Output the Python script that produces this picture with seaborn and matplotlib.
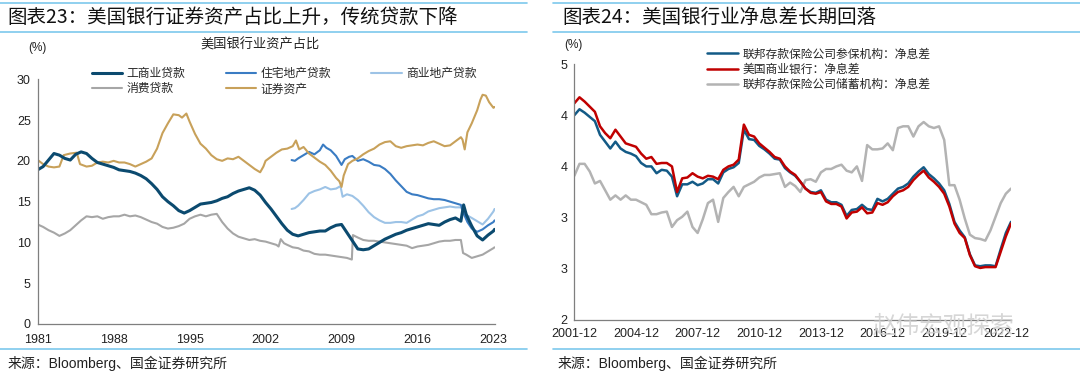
import numpy as np
import pandas as pd
import matplotlib
matplotlib.use("Agg")
import matplotlib.pyplot as plt
import seaborn as sns
from matplotlib.lines import Line2D

# ---------------- data: left chart (share of US bank assets, %) ----------------
ci_years = [1981.0,1981.5,1982.0,1982.5,1983.0,1983.5,1984.0,1984.5,1985.0,1985.5,1986.0,1986.5,1987.0,1987.5,
            1988.0,1988.5,1989.0,1989.5,1990.0,1990.5,1991.0,1991.5,1992.0,1992.5,1993.0,1993.5,1994.0,1994.5,
            1995.0,1995.5,1996.0,1996.5,1997.0,1997.5,1998.0,1998.5,1999.0,1999.5,2000.0,2000.5,2001.0,2001.5,
            2002.0,2002.5,2003.0,2003.5,2004.0,2004.5,2005.0,2005.5,2006.0,2006.5,2007.0,2007.5,2008.0,2008.5,
            2009.0,2009.5,2010.0,2010.5,2011.0,2011.5,2012.0,2012.5,2013.0,2013.5,2014.0,2014.5,2015.0,2015.5,
            2016.0,2016.5,2017.0,2017.5,2018.0,2018.5,2019.0,2019.5,2020.0,2020.25,2020.5,2021.0,2021.5,2022.0,
            2022.5,2023.0,2023.1]
ci_loans = [18.9,19.3,20.1,20.9,20.7,20.3,20.1,20.8,21.1,20.9,20.3,19.8,19.6,19.4,
            19.2,18.9,18.8,18.7,18.5,18.2,17.8,17.2,16.5,15.6,15.0,14.5,13.9,13.6,
            13.9,14.3,14.7,14.8,14.9,15.1,15.4,15.6,16.0,16.3,16.5,16.7,16.4,15.8,
            14.9,14.1,13.2,12.3,11.5,11.0,10.8,11.0,11.2,11.3,11.4,11.4,11.8,12.1,
            12.2,11.2,10.2,9.2,9.1,9.2,9.6,10.0,10.4,10.7,11.0,11.2,11.5,11.7,
            11.9,12.1,12.3,12.2,12.1,12.5,12.8,13.0,12.6,14.6,13.4,12.0,10.8,10.3,
            10.9,11.4,11.6]

res_years = [2004.4,2004.7,2005.0,2005.5,2006.0,2006.5,2007.0,2007.3,2007.6,2008.0,2008.5,2009.0,2009.3,2009.7,
             2010.0,2010.5,2011.0,2011.5,2012.0,2012.5,2013.0,2013.5,2014.0,2014.5,2015.0,2015.5,2016.0,2016.5,
             2017.0,2017.5,2018.0,2018.5,2019.0,2019.5,2020.0,2020.3,2020.6,2021.0,2021.5,2022.0,2022.5,2023.0,2023.1]
res_loans = [20.1,20.0,20.3,20.7,21.1,20.8,21.3,22.0,21.6,21.3,20.6,19.5,20.2,20.5,
             20.6,20.0,20.2,19.9,19.5,19.4,19.0,18.4,17.6,16.9,16.2,15.9,15.8,15.6,
             15.4,15.3,15.3,15.2,15.0,14.8,14.6,13.4,12.5,11.7,11.3,11.6,12.1,12.5,12.7]

cre_years = [2004.4,2004.7,2005.0,2005.5,2006.0,2006.5,2007.0,2007.5,2008.0,2008.5,2008.9,2009.1,2009.5,2010.0,
             2010.5,2011.0,2011.5,2012.0,2012.5,2013.0,2013.5,2014.0,2014.5,2015.0,2015.5,2016.0,2016.5,2017.0,
             2017.5,2018.0,2018.5,2019.0,2019.5,2020.0,2020.3,2020.6,2021.0,2021.5,2022.0,2022.5,2023.0,2023.1]
cre_loans = [14.1,14.2,14.5,15.2,16.0,16.3,16.5,16.8,16.5,16.6,16.9,15.6,15.9,15.7,
             15.2,14.5,13.7,13.1,12.7,12.4,12.4,12.5,12.5,12.4,12.8,13.2,13.4,13.8,
             14.0,14.2,14.3,14.4,14.3,14.3,13.6,13.3,13.0,12.6,12.2,12.9,13.8,14.1]

con_years = [1981.0,1981.5,1982.0,1982.5,1983.0,1983.5,1984.0,1984.5,1985.0,1985.5,1986.0,1986.5,1987.0,1987.5,
             1988.0,1988.5,1989.0,1989.5,1990.0,1990.5,1991.0,1991.5,1992.0,1992.5,1993.0,1993.5,1994.0,1994.5,
             1995.0,1995.5,1996.0,1996.5,1997.0,1997.5,1998.0,1998.5,1999.0,1999.5,2000.0,2000.5,2001.0,2001.5,
             2002.0,2002.5,2003.0,2003.2,2003.4,2003.7,2004.0,2004.5,2005.0,2005.5,2006.0,2006.5,2007.0,2007.5,
             2008.0,2008.5,2009.0,2009.5,2009.95,2010.05,2010.5,2011.0,2011.5,2012.0,2012.5,2013.0,2013.5,2014.0,
             2014.5,2015.0,2015.5,2016.0,2016.5,2017.0,2017.5,2018.0,2018.5,2019.0,2019.5,2020.0,2020.2,2020.5,
             2021.0,2021.5,2022.0,2022.5,2023.0,2023.1]
con_loans = [12.2,11.9,11.5,11.2,10.8,11.1,11.5,12.1,12.7,13.2,13.1,13.2,12.9,13.1,
             13.2,13.2,13.4,13.2,13.3,13.1,12.8,12.5,12.3,11.9,11.7,11.8,12.0,12.3,
             12.9,13.2,13.4,13.2,13.4,13.5,12.5,11.7,11.1,10.7,10.5,10.3,10.4,10.2,
             10.1,9.9,9.7,9.5,10.4,9.9,9.7,9.4,9.3,9.0,8.9,8.6,8.5,8.5,
             8.4,8.3,8.2,8.1,7.9,10.9,10.6,10.3,10.2,10.2,10.1,10.0,9.9,9.8,
             9.7,9.6,9.3,9.5,9.6,9.7,9.9,10.1,10.2,10.2,10.3,10.3,8.7,8.5,
             8.1,8.3,8.5,8.9,9.3,9.4]

sec_years = [1981.0,1981.5,1982.0,1982.5,1983.0,1983.4,1984.0,1984.6,1984.9,1985.5,1986.0,1986.5,1987.0,1987.5,
             1988.0,1988.5,1989.0,1989.5,1990.0,1990.5,1991.0,1991.5,1992.0,1992.5,1993.0,1993.5,1994.0,1994.3,
             1994.7,1995.0,1995.5,1996.0,1996.5,1997.0,1997.5,1998.0,1998.5,1999.0,1999.5,2000.0,2000.5,2001.0,
             2001.5,2001.8,2002.0,2002.5,2003.0,2003.5,2004.0,2004.5,2004.8,2005.1,2005.5,2006.0,2006.5,2007.0,
             2007.5,2008.0,2008.5,2008.8,2009.0,2009.2,2009.6,2010.0,2010.5,2011.0,2011.5,2012.0,2012.5,2013.0,
             2013.5,2014.0,2014.5,2015.0,2015.5,2016.0,2016.5,2017.0,2017.5,2018.0,2018.5,2019.0,2019.5,2020.0,
             2020.15,2020.35,2020.6,2021.0,2021.5,2021.8,2022.0,2022.3,2022.6,2023.0,2023.1]
securities = [20.1,19.6,19.3,19.2,19.3,20.7,20.9,21.0,19.6,19.3,19.4,19.8,19.9,19.8,
              20.0,19.8,19.8,19.6,19.3,19.6,19.9,20.3,21.5,23.4,24.6,25.7,25.6,25.3,
              25.8,24.8,23.3,22.1,21.5,20.7,20.2,20.0,20.3,20.2,20.5,20.0,19.5,19.0,
              18.6,19.3,20.0,20.5,21.0,21.4,21.5,21.8,22.5,21.4,21.7,20.9,20.4,19.9,
              19.5,18.8,17.9,17.5,16.8,18.2,19.6,20.0,20.3,20.8,21.2,21.5,22.0,22.3,
              22.4,21.8,21.6,21.8,21.9,22.0,21.9,22.2,22.4,22.1,21.8,21.9,22.4,22.9,
              22.6,21.4,23.5,24.6,26.2,27.5,28.1,28.0,27.2,26.5,26.6]

left_names = ["工商业贷款", "住宅地产贷款", "商业地产贷款", "消费贷款", "证券资产"]
left_xticks = [1981, 1988, 1995, 2002, 2009, 2016, 2023]

# ---------------- data: right chart (net interest margin, %) ----------------
quarters = pd.period_range("2001Q4", "2023Q1", freq="Q")
nim_insured = [4.40,4.47,4.43,4.38,4.33,4.17,4.09,4.01,4.09,4.01,3.97,3.95,3.92,3.84,3.80,3.80,
               3.72,3.76,3.75,3.68,3.45,3.59,3.59,3.62,3.58,3.60,3.65,3.65,3.60,3.73,3.77,3.79,
               3.84,4.23,4.12,4.11,4.04,4.00,3.95,3.89,3.88,3.78,3.73,3.69,3.62,3.54,3.50,3.49,
               3.52,3.41,3.38,3.38,3.35,3.22,3.29,3.30,3.35,3.30,3.29,3.42,3.39,3.42,3.48,3.54,
               3.56,3.60,3.68,3.74,3.79,3.71,3.66,3.60,3.52,3.36,3.15,3.05,2.97,2.77,2.64,2.63,
               2.64,2.64,2.63,2.83,3.02,3.15]
nim_commercial = [4.54,4.61,4.56,4.50,4.44,4.27,4.19,4.13,4.23,4.15,4.07,4.05,4.03,3.95,3.89,3.91,
                  3.83,3.84,3.84,3.80,3.50,3.66,3.67,3.72,3.68,3.66,3.69,3.68,3.65,3.76,3.80,3.82,
                  3.88,4.29,4.17,4.15,4.07,4.02,3.97,3.91,3.89,3.80,3.74,3.70,3.62,3.54,3.49,3.48,
                  3.50,3.39,3.36,3.36,3.33,3.19,3.26,3.27,3.32,3.25,3.26,3.37,3.35,3.38,3.45,3.50,
                  3.52,3.56,3.64,3.70,3.75,3.67,3.62,3.56,3.48,3.33,3.13,3.02,2.96,2.76,2.63,2.61,
                  2.62,2.62,2.62,2.80,2.98,3.13]
nim_savings = [3.69,3.83,3.83,3.74,3.60,3.63,3.52,3.41,3.46,3.41,3.46,3.41,3.41,3.38,3.35,3.24,
               3.24,3.26,3.27,3.09,3.17,3.21,3.27,3.09,3.02,3.18,3.37,3.41,3.15,3.43,3.50,3.56,
               3.45,3.56,3.59,3.62,3.67,3.70,3.70,3.71,3.72,3.56,3.61,3.57,3.50,3.64,3.65,3.62,
               3.73,3.77,3.77,3.80,3.82,3.75,3.73,3.80,3.63,4.05,4.00,4.00,4.01,4.07,3.99,4.25,
               4.27,4.27,4.15,4.27,4.32,4.27,4.25,4.27,4.11,3.58,3.58,3.41,3.19,3.00,2.96,2.95,
               2.93,3.05,3.21,3.37,3.48,3.54]
right_names = ["联邦存款保险公司参保机构：净息差", "美国商业银行：净息差", "联邦存款保险公司储蓄机构：净息差"]
right_yticks = [2.0, 2.6, 3.2, 3.8, 4.4, 5.0]

# ---------------- style ----------------
sns.set_theme(style="white")
plt.rcParams["font.family"] = ["Liberation Sans", "Noto Sans CJK SC", "DejaVu Sans"]
CJK = ["Noto Sans CJK SC", "DejaVu Sans"]
AXC = "#7f7f7f"

fig = plt.figure(figsize=(10.8, 3.77), dpi=100)

# decorative frame lines
for x0, x1 in [(0.0, 0.488), (0.512, 1.0)]:
    for yy in (0.992, 0.915, 0.074):
        fig.add_artist(Line2D([x0, x1], [yy, yy], transform=fig.transFigure,
                              color="#7dc8ec", lw=1.2))

fig.text(0.007, 0.953, "图表23：美国银行证券资产占比上升，传统贷款下降", family=CJK,
         fontsize=14, ha="left", va="center", color="#111111")
fig.text(0.521, 0.953, "图表24：美国银行业净息差长期回落", family=CJK,
         fontsize=14, ha="left", va="center", color="#111111")
fig.text(0.007, 0.037, "来源：Bloomberg、国金证券研究所", fontsize=10, ha="left", va="center",
         color="#222222", family=["Liberation Sans", "Noto Sans CJK SC"])
fig.text(0.516, 0.037, "来源：Bloomberg、国金证券研究所", fontsize=10, ha="left", va="center",
         color="#222222", family=["Liberation Sans", "Noto Sans CJK SC"])

# ---------------- left chart ----------------
axL = fig.add_axes([0.0349, 0.1406, 0.4230, 0.6491])
left_series = [
    (con_years, con_loans, "#a6a6a6", 1.5, left_names[3]),
    (cre_years, cre_loans, "#9dc3e6", 1.5, left_names[2]),
    (res_years, res_loans, "#3a7cc3", 1.5, left_names[1]),
    (sec_years, securities, "#c8a15a", 1.5, left_names[4]),
    (ci_years, ci_loans, "#0b4a6f", 2.2, left_names[0]),
]
for xs, ys, c, lw, nm in left_series:
    sns.lineplot(x=xs, y=ys, ax=axL, color=c, lw=lw, label=nm, legend=False)

axL.set_xlim(1981, 2023.1)
axL.set_ylim(0, 30)
axL.set_yticks(np.arange(0, 31, 5))
axL.set_xticks(left_xticks)
axL.set_xticklabels([str(v) for v in left_xticks])

hl = {l.get_label(): l for l in axL.get_lines()}
order = ["工商业贷款", "消费贷款", "住宅地产贷款", "证券资产", "商业地产贷款"]
axL.legend([hl[k] for k in order], order, ncol=3, frameon=False, loc="upper left",
           bbox_to_anchor=(0.085, 0.822), bbox_transform=fig.transFigure,
           prop={"family": CJK, "size": 8.5}, handlelength=2.6, handletextpad=0.35,
           columnspacing=3.4, labelspacing=0.2, borderpad=0, borderaxespad=0)
fig.text(0.241, 0.880, "美国银行业资产占比", family=CJK, fontsize=9.5, ha="center",
         va="center", color="#222222")
fig.text(0.026, 0.872, "(%)", fontsize=8.5, ha="left", va="center", color="#222222")

# ---------------- right chart ----------------
axR = fig.add_axes([0.5318, 0.1512, 0.4043, 0.6790])
qx = np.arange(len(quarters))
right_series = [
    (nim_savings, "#b3b3b3", right_names[2]),
    (nim_insured, "#135a86", right_names[0]),
    (nim_commercial, "#c00000", right_names[1]),
]
for ys, c, nm in right_series:
    sns.lineplot(x=qx, y=ys, ax=axR, color=c, lw=1.8, label=nm, legend=False)
axR.set_xlim(0, len(quarters) - 1)
axR.set_ylim(2, 5)
axR.set_yticks(right_yticks)
axR.set_yticklabels([f"{v:.0f}" for v in right_yticks])
tick_q = qx[::12]
axR.set_xticks(tick_q)
axR.set_xticklabels([f"{quarters[i].year}-{quarters[i].end_time.month:02d}" for i in tick_q])

hr = {l.get_label(): l for l in axR.get_lines()}
axR.legend([hr[k] for k in right_names], right_names, ncol=1, frameon=False, loc="upper left",
           bbox_to_anchor=(0.655, 0.874), bbox_transform=fig.transFigure,
           prop={"family": CJK, "size": 8.5}, handlelength=2.6, handletextpad=0.35,
           labelspacing=0.2, borderpad=0, borderaxespad=0)
fig.text(0.522, 0.880, "(%)", fontsize=8.5, ha="left", va="center", color="#222222")

# watermark
fig.text(0.808, 0.135, "赵伟宏观探索", family=CJK, fontsize=17, ha="left", va="center",
         color="#cfcfcf", alpha=0.85)

for ax in (axL, axR):
    for s in ("top", "right"):
        ax.spines[s].set_visible(False)
    for s in ("left", "bottom"):
        ax.spines[s].set_color(AXC)
        ax.spines[s].set_linewidth(0.9)
    ax.tick_params(axis="both", direction="in", length=3.5, width=0.8, color=AXC,
                   labelsize=9, labelcolor="#222222", pad=5)
    ax.set_facecolor("white")
    ax.grid(False)
    ax.set_xlabel("")
    ax.set_ylabel("")
axL.tick_params(axis="x", pad=7)
axR.tick_params(axis="x", pad=6)

fig.savefig("out.png", dpi=100, facecolor="white")
